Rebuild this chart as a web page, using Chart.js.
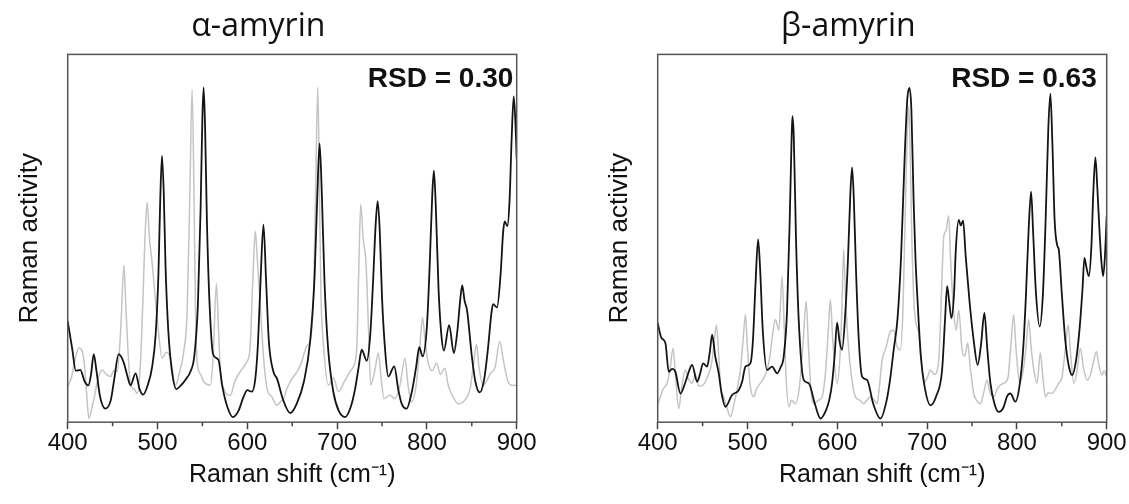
<!DOCTYPE html>
<html>
<head>
<meta charset="utf-8">
<script src="https://cdn.jsdelivr.net/npm/chart.js@4.4.1/dist/chart.umd.min.js"></script>
<style>
  html, body { margin: 0; padding: 0; background: #fff; overflow: hidden; width: 1129px; height: 504px; }
  canvas { position: absolute; top: 0; }
  #alphaChart { left: 0; }
  #betaChart { left: 590px; }
</style>
</head>
<body>
<canvas id="alphaChart" width="556" height="504"></canvas>
<canvas id="betaChart" width="556" height="504"></canvas>
<script>
/* 軸設定 */
const shiftMin = 400;
const shiftMax = 900;
const majorStep = 100;
const minorTicks = [450, 550, 650, 750, 850];

/* 圖標題與 RSD */
const chartTitles = ['α-amyrin', 'β-amyrin'];
const rsdLabels = ['RSD = 0.30', 'RSD = 0.63'];

/* α-amyrin 黑線 [Raman shift, activity] */
const alphaDark = [
  [400, 27.5], [405, 20], [409, 14], [414, 14.2], [419, 11], [423, 10], [426, 13], [429, 18.5],
  [432, 14], [436, 7], [442, 3.7], [448, 6], [452, 12], [456.7, 18.5], [462, 16.5], [466, 13],
  [470, 10], [475.6, 13.3], [480, 9], [484, 7.5], [489, 10], [494, 15], [498, 24], [501, 40],
  [503, 60], [505, 72.4], [507, 62], [509, 42], [512, 25], [516, 14], [521, 9], [526, 10],
  [531, 11.5], [536.7, 13.8], [541, 18], [545, 32], [548, 58], [550, 83], [551.4, 91], [553, 80],
  [555, 55], [558, 32], [562, 18.4], [567.8, 17], [572, 10], [578, 4], [584, 1.4], [590, 3],
  [596, 7], [600, 8.7], [605, 8.3], [609, 12], [612, 22], [615, 40], [618, 53.7], [621, 38],
  [624, 22], [629, 13.8], [633, 11.9], [640, 6], [647.8, 2.5], [655, 5], [663, 11], [670, 22],
  [675, 40], [678, 62], [680.5, 75.8], [683, 62], [686, 38], [690, 20], [696, 8], [702, 3],
  [708.9, 1.4], [715, 4], [720, 9], [724, 15], [727.4, 19.7], [733, 16.7], [737, 24], [740, 38],
  [743, 54], [745.2, 60.1], [747.5, 52], [750, 34], [754, 18], [757, 12.4], [763.7, 15.2], [768, 9],
  [772, 5], [777.4, 3.7], [783, 8], [788, 15], [791.5, 20.4], [795.2, 17.9], [800, 26], [803, 42],
  [806, 62], [807.8, 68.4], [810, 58], [813, 36], [816, 24], [818.9, 19.5], [824.8, 26.4], [830, 18.8],
  [834, 25], [837, 33], [839.3, 37.2], [842, 33], [844.8, 30.3], [850, 18], [854, 11], [858.9, 8.1],
  [864, 12], [868, 20], [872, 30], [873.7, 32.1], [878.1, 31.2], [882, 40], [885, 52], [886.7, 54.6],
  [889.6, 53.3], [892, 60], [894.5, 78], [896.7, 88.6], [898.5, 82], [900, 71.6]
];

/* α-amyrin 灰線 */
const alphaLight = [
  [400, 9.6], [404, 12], [409, 18], [412.6, 20.2], [418, 17], [421, 8], [423.7, 1], [427, 4],
  [429.3, 6.4], [434, 12], [438.5, 14.2], [443, 13], [447.8, 12.4], [451, 14], [455.2, 13.8], [459, 25],
  [462.6, 42.7], [465, 30], [470, 10.1], [474, 9], [477.4, 7.8], [481, 16], [484, 35], [486, 50],
  [488.5, 59.7], [491, 50], [494.1, 43.2], [497, 35], [499.6, 28.5], [505.2, 17.4], [510, 19], [514.4, 17.4],
  [520, 10.1], [525, 14], [529.3, 19.3], [533, 30], [536, 62], [538.5, 90.4], [540.5, 65], [542, 35],
  [544.1, 16.5], [548, 13], [551.5, 11], [558.9, 10.1], [562, 18], [565.6, 37.7], [568, 25], [570, 14],
  [573.7, 9.2], [581.1, 7.3], [586, 11], [592.2, 13.8], [596, 15], [599.6, 16.5], [603, 20], [606, 38],
  [608.9, 51.9], [611, 45], [614.4, 32.1], [618, 18], [621.9, 9.2], [627, 7], [633, 4.6], [636.7, 5.5],
  [640.4, 6.4], [644, 9], [647.8, 11], [651.5, 12.4], [656, 14], [660, 16], [666.3, 20.7], [670, 22],
  [673.7, 34], [676, 62], [678.5, 91.1], [680.5, 60], [682, 35], [684.8, 21.1], [690.4, 10.1], [696, 12],
  [701.5, 8.3], [708, 11], [714.4, 13.8], [718, 15], [721.9, 20.2], [724, 40], [726.3, 59.2], [729, 50],
  [732.2, 43.2], [735, 25], [737.4, 10.1], [742, 14], [745.9, 18.8], [749, 12], [752.2, 6.4], [758.9, 7.3],
  [764.4, 6.4], [770, 10], [775.6, 17.4], [779, 10], [783, 5.5], [788, 10], [792, 20], [795.2, 28.5],
  [798, 22], [801.5, 16.1], [806, 14], [810.7, 16.1], [815, 13], [820, 14.7], [823.7, 10.1], [829, 7],
  [834.8, 5], [842.2, 6], [848, 9], [852, 16], [855.2, 21.1], [858, 15], [862.6, 10.1], [866, 11],
  [870.8, 13.3], [876, 15], [881.1, 22], [885, 17], [890.4, 11], [895, 10], [900, 10.1]
];

/* β-amyrin 黑線 */
const betaDark = [
  [400, 27], [404, 23], [408.6, 21.5], [412.3, 13.7], [416, 14.5], [419.7, 13.7], [425.3, 7.8], [431, 11],
  [435, 14], [438.3, 15.6], [443.9, 11], [447, 13], [450.6, 16], [455, 15.1], [458, 19], [460.6, 23.8],
  [464, 18], [468, 13.3], [471, 8], [475.4, 4.2], [482.8, 7.4], [490.2, 8.7], [494, 11], [497.7, 15.1],
  [503.2, 16], [506, 22], [509, 38], [511.8, 49.7], [514, 42], [517, 25], [521.8, 14.2], [527.4, 15.1],
  [533, 13.3], [537, 15], [540.3, 17.8], [544, 30], [547, 55], [549, 76], [550, 83.2], [551.5, 78],
  [554, 50], [557, 28], [562.6, 11.5], [568.2, 10.6], [575, 5], [581.2, 1], [587, 3], [591, 6],
  [594.2, 10.6], [597, 18], [599.8, 27.1], [602.5, 22], [605.3, 19.7], [609, 30], [612, 45], [614.5, 62],
  [616.5, 69.3], [618.5, 60], [621, 40], [624, 22], [627.6, 12.4], [633.2, 11.5], [640, 5], [648, 1],
  [655, 6], [659, 12], [662.8, 19.7], [667, 28], [671, 45], [675, 72], [678, 88], [680.3, 90.9],
  [682.5, 85], [685, 60], [687, 45], [689.6, 32], [693, 18], [697, 10], [703.7, 4.6], [710, 7],
  [716.7, 14.2], [720, 28], [722.3, 37], [724.5, 33], [727.1, 28.3], [730, 35], [732, 47], [735.2, 55],
  [737.5, 53.5], [740.1, 54.8], [743, 45], [747.4, 32.4], [752, 22], [756.3, 15.6], [760, 21], [763.8, 29.7],
  [767, 20], [770.5, 10.6], [775, 5], [779.7, 2.8], [785, 4], [789, 7], [792.8, 7.8], [798.3, 5.6],
  [803, 10], [807, 20], [810, 34], [813, 52], [815.8, 62.7], [818, 52], [821, 36], [825.4, 26],
  [829, 35], [832, 55], [835, 80], [837.3, 89.3], [839.5, 76], [842, 55], [845, 48], [846.6, 47],
  [850, 35], [854, 22], [858, 15], [861.5, 12.8], [866, 17], [870, 26], [873, 36], [875.2, 44.7],
  [877.5, 42], [880.1, 39.7], [883, 48], [885, 62], [887.4, 72], [889.5, 64], [892, 52], [894, 44],
  [896, 39.7], [898, 45], [900, 56]
];

/* β-amyrin 灰線 */
const betaLight = [
  [400, 5], [403, 6.9], [406, 9], [410.5, 10.6], [414, 15], [417.1, 20.1], [420, 12], [423.4, 3.7],
  [427, 10], [430.8, 14.2], [434, 12], [438.3, 10.6], [442, 13], [445.7, 9.8], [450, 10], [455, 12],
  [460, 16], [463, 22], [465.4, 26.5], [468, 18], [470, 10], [473.6, 6.9], [477, 4], [481, 1.5],
  [485, 5], [488.5, 9], [492, 14], [495, 22], [497.7, 29.2], [500, 20], [503, 10], [507, 6.9],
  [510, 9], [514.4, 10.6], [518, 12], [521.8, 14.2], [525, 18], [528, 24], [531.1, 27.9], [535, 25],
  [538.5, 39.7], [541, 25], [543, 12], [546, 4.2], [549, 6], [553.4, 5], [558, 10], [562, 22],
  [565.3, 32.9], [568, 20], [571, 8], [573.8, 5], [579, 6], [583.1, 6.9], [587, 14], [590, 25],
  [592.3, 33.3], [595, 22], [599.8, 10.6], [603, 18], [605, 30], [607.1, 47], [609, 35], [612.7, 19.7],
  [616, 12], [620.2, 6.9], [625, 6], [629.5, 5], [633, 6], [636.9, 6.9], [641, 6], [644.3, 5],
  [647, 10], [649.9, 16.9], [654, 20], [659.1, 24.7], [663, 25], [666, 21], [670.3, 19.7], [673, 30],
  [676, 60], [678, 80], [679.5, 86], [681, 75], [683, 50], [686, 30], [690.7, 24.2], [693, 18],
  [696.3, 10.6], [700, 12], [703.7, 14.2], [708, 13], [713, 16.9], [716, 35], [718.6, 50.6], [721, 52],
  [724.1, 56.1], [726, 45], [729.7, 29.7], [732.5, 25], [735.2, 30.5], [738.9, 19.7], [742, 18], [745.2, 21.5],
  [748, 15], [751.9, 7.8], [755, 6], [759.3, 5], [763, 8], [766.7, 11.5], [770, 8], [774.2, 6.9],
  [778, 9], [781, 10], [785.3, 10.6], [790, 12], [793, 20], [796.4, 29.2], [799, 20], [803.1, 10.6],
  [807, 14], [810, 20], [813.1, 27.9], [816, 20], [819, 14], [822.4, 10.6], [826.1, 18.8], [829, 12],
  [831.7, 6.9], [835, 8], [839.1, 7.8], [843, 9], [846.6, 10.6], [850, 12], [854, 20], [857, 26.5],
  [860, 18], [863.4, 10.6], [867, 14], [870.7, 20.1], [874, 15], [878.2, 11.5], [882, 13], [885, 16],
  [888.5, 19.2], [891, 16], [894.7, 12.8], [897, 14], [900, 12.4]
];

const toPoints = arr => arr.map(p => ({ x: p[0], y: p[1] }));

/* 外框、次刻度與 RSD 文字 */
const framePlugin = {
    id: 'frame',
    afterDraw(chart, args, opts) {
        const { ctx, chartArea: a, scales } = chart;
        ctx.save();
        ctx.strokeStyle = '#555';
        ctx.lineWidth = 1.5;
        ctx.strokeRect(a.left, a.top, a.right - a.left, a.bottom - a.top);

        ctx.strokeStyle = '#444';
        minorTicks.forEach(v => {
            const px = scales.x.getPixelForValue(v);
            ctx.beginPath();
            ctx.moveTo(px, a.bottom);
            ctx.lineTo(px, a.bottom + 4);
            ctx.stroke();
        });

        ctx.fillStyle = '#111';
        ctx.font = 'bold 28px "Liberation Sans", Arial, sans-serif';
        ctx.textAlign = 'right';
        ctx.textBaseline = 'alphabetic';
        ctx.fillText(opts.text, a.right - opts.inset, a.top + 32.5);
        ctx.restore();
    }
};

function renderSpectrum(canvasId, title, dark, light, rsd, rsdInset) {
    const el = document.getElementById(canvasId);
    return new Chart(el, {
        type: 'line',
        data: {
            datasets: [{
                data: toPoints(dark),
                borderColor: '#141414',
                borderWidth: 1.8,
                pointRadius: 0,
                cubicInterpolationMode: 'monotone',
                order: 0
            }, {
                data: toPoints(light),
                borderColor: '#c4c4c4',
                borderWidth: 1.5,
                pointRadius: 0,
                cubicInterpolationMode: 'monotone',
                order: 1
            }]
        },
        options: {
            responsive: false,
            animation: false,
            layout: { padding: { top: 0, right: 39.3, bottom: 0, left: 0 } },
            plugins: {
                legend: { display: false },
                tooltip: { enabled: false },
                title: {
                    display: true,
                    text: title,
                    color: '#111',
                    font: { family: '"Open Sans", "Noto Sans", sans-serif', size: 32, weight: 'normal', lineHeight: 1.2 },
                    padding: { top: 8, bottom: 8 }
                },
                frame: { text: rsd, inset: rsdInset }
            },
            scales: {
                x: {
                    type: 'linear',
                    min: shiftMin,
                    max: shiftMax,
                    border: { display: false },
                    grid: { drawOnChartArea: false, drawTicks: true, tickLength: 7, tickColor: '#444', tickWidth: 1.5 },
                    ticks: {
                        stepSize: majorStep,
                        padding: 0,
                        color: '#111',
                        maxRotation: 0,
                        font: { family: '"Liberation Sans", Arial, sans-serif', size: 24, lineHeight: 1.2 }
                    },
                    title: {
                        display: true,
                        text: 'Raman shift (cm⁻¹)',
                        color: '#111',
                        font: { family: '"Liberation Sans", Arial, sans-serif', size: 25, lineHeight: 1.2 },
                        padding: { top: 2, bottom: 14 }
                    }
                },
                y: {
                    min: 0,
                    max: 100,
                    border: { display: false },
                    grid: { display: false, drawTicks: false },
                    ticks: { display: false },
                    title: {
                        display: true,
                        text: 'Raman activity',
                        color: '#111',
                        font: { family: '"Liberation Sans", Arial, sans-serif', size: 26, lineHeight: 1.2 },
                        padding: { top: 14.4, bottom: 22.1 }
                    }
                }
            }
        },
        plugins: [framePlugin]
    });
}

renderSpectrum('alphaChart', chartTitles[0], alphaDark, alphaLight, rsdLabels[0], 3.4);
renderSpectrum('betaChart', chartTitles[1], betaDark, betaLight, rsdLabels[1], 10);
</script>
</body>
</html>
